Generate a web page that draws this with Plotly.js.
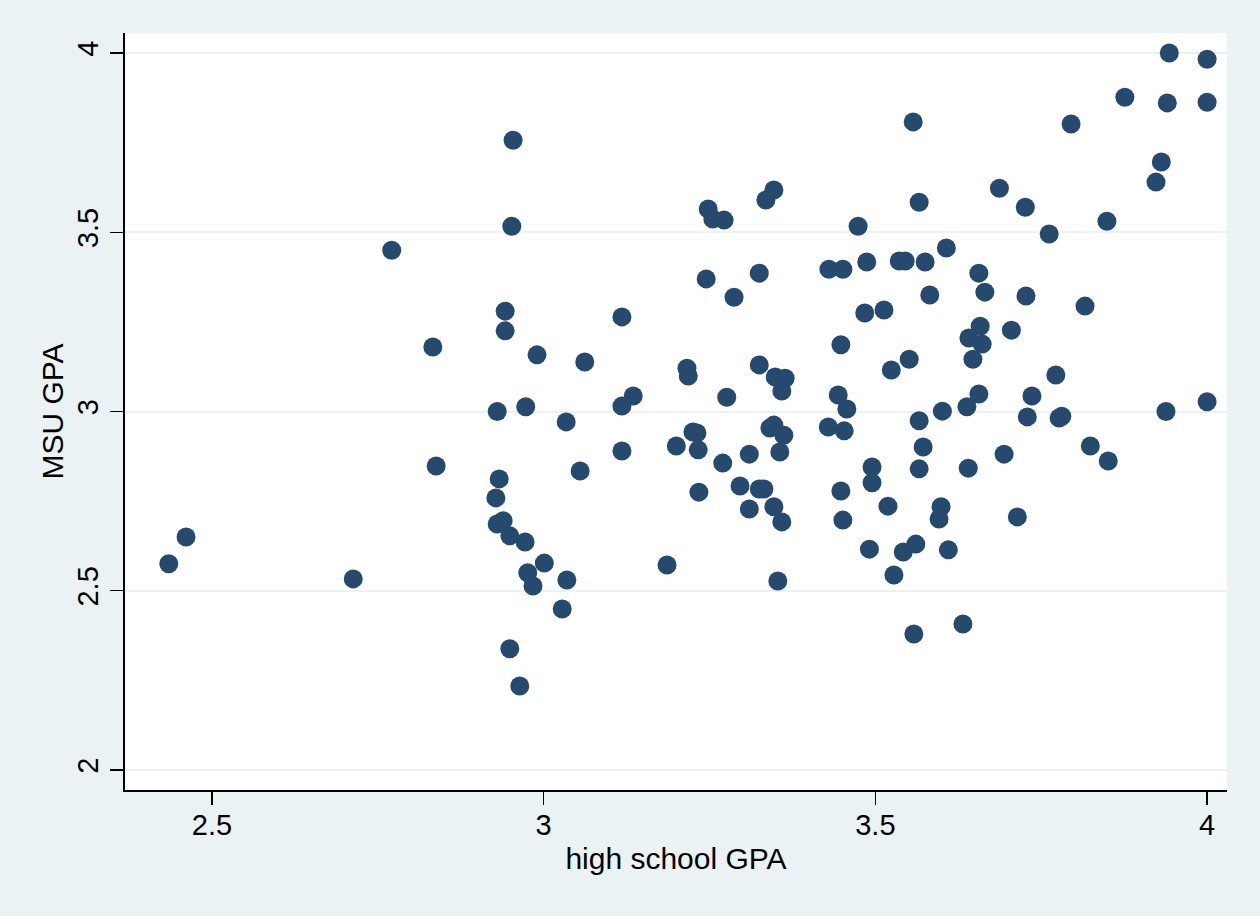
<!DOCTYPE html>
<html>
<head>
<meta charset="utf-8">
<script src="https://cdn.plot.ly/plotly-3.0.1.min.js"></script>
<style>
  body { margin: 0; background: #eaf2f3; }
  #graph { width: 1260px; height: 916px; }
</style>
</head>
<body>
<div id="graph"></div>
<script>
// moyenne au lycée (axe x)
var hsGPA = [
  2.435, 2.461, 2.713, 2.771, 2.833, 2.838, 2.954, 2.952, 2.942, 2.942,
  2.990, 3.062, 2.930, 2.973, 3.034, 2.933, 2.928, 2.930, 2.939, 2.949,
  2.972, 3.001, 2.976, 2.984, 3.035, 3.028, 2.949, 2.964, 3.055, 3.118,
  3.118, 3.135, 3.118, 3.186, 3.200, 3.216, 3.218, 3.225, 3.231, 3.233,
  3.234, 3.245, 3.248, 3.255, 3.272, 3.287, 3.325, 3.335, 3.347, 3.276,
  3.270, 3.310, 3.296, 3.325, 3.332, 3.310, 3.347, 3.359, 3.341, 3.347,
  3.362, 3.356, 3.353, 3.325, 3.349, 3.364, 3.359, 3.430, 3.451, 3.474,
  3.487, 3.536, 3.545, 3.575, 3.607, 3.557, 3.566, 3.656, 3.665, 3.582,
  3.727, 3.484, 3.513, 3.448, 3.524, 3.551, 3.658, 3.641, 3.661, 3.647,
  3.705, 3.772, 3.816, 3.444, 3.457, 3.429, 3.453, 3.566, 3.601, 3.638,
  3.656, 3.736, 3.729, 3.777, 3.781, 3.572, 3.566, 3.640, 3.694, 3.495,
  3.495, 3.448, 3.451, 3.519, 3.599, 3.596, 3.714, 3.491, 3.542, 3.561,
  3.610, 3.528, 3.558, 3.632, 3.824, 3.851, 3.762, 3.687, 3.726, 3.849,
  3.795, 3.931, 3.923, 3.943, 4.000, 3.876, 3.940, 4.000, 3.938, 4.000
];

// moyenne à MSU (axe y)
var colGPA = [
  2.575, 2.650, 2.533, 3.450, 3.180, 2.848, 3.757, 3.517, 3.280, 3.225,
  3.158, 3.138, 3.000, 3.013, 2.971, 2.812, 2.759, 2.686, 2.695, 2.653,
  2.636, 2.577, 2.550, 2.513, 2.530, 2.449, 2.338, 2.234, 2.834, 3.264,
  3.015, 3.043, 2.890, 2.572, 2.904, 3.121, 3.099, 2.943, 2.940, 2.893,
  2.775, 3.370, 3.565, 3.537, 3.534, 3.319, 3.386, 3.590, 3.618, 3.040,
  2.856, 2.881, 2.792, 2.784, 2.784, 2.728, 2.734, 2.692, 2.954, 2.962,
  2.934, 2.887, 2.527, 3.130, 3.096, 3.093, 3.057, 3.397, 3.397, 3.517,
  3.417, 3.420, 3.420, 3.417, 3.456, 3.808, 3.584, 3.386, 3.333, 3.325,
  3.322, 3.275, 3.283, 3.186, 3.116, 3.146, 3.238, 3.205, 3.188, 3.146,
  3.227, 3.102, 3.294, 3.046, 3.007, 2.957, 2.946, 2.974, 3.001, 3.013,
  3.049, 3.043, 2.985, 2.982, 2.987, 2.901, 2.840, 2.842, 2.881, 2.845,
  2.801, 2.778, 2.697, 2.736, 2.734, 2.700, 2.706, 2.616, 2.608, 2.630,
  2.614, 2.544, 2.379, 2.407, 2.904, 2.862, 3.495, 3.623, 3.570, 3.531,
  3.802, 3.696, 3.640, 4.000, 3.983, 3.877, 3.861, 3.863, 3.000, 3.027
];

var xTicks = [2.5, 3, 3.5, 4];
var yTicks = [2, 2.5, 3, 3.5, 4];

var bleu = '#264a6e';
var fond = '#eaf2f3';

var data = [{
  x: hsGPA,
  y: colGPA,
  type: 'scatter',
  mode: 'markers',
  marker: { size: 19, color: bleu },
  hoverinfo: 'x+y'
}];

//police des graduations et des titres d'axes
var policeTick = { family: 'Liberation Sans, Arial, Helvetica, sans-serif', size: 29, color: '#000' };
var policeTitre = { family: 'Liberation Sans, Arial, Helvetica, sans-serif', size: 30, color: '#000' };

var layout = {
  width: 1260,
  height: 916,
  paper_bgcolor: fond,
  plot_bgcolor: '#ffffff',
  margin: { l: 125, r: 33, t: 33, b: 126 },
  showlegend: false,
  font: policeTick,
  xaxis: {
    range: [2.369, 4.030],
    tickvals: xTicks,
    ticks: 'outside',
    ticklen: 13,
    tickwidth: 1.5,
    tickcolor: '#000',
    ticklabelstandoff: -5,
    showgrid: false,
    zeroline: false,
    showline: true,
    linecolor: '#000',
    linewidth: 2,
    tickfont: policeTick,
    title: { text: 'high school GPA', font: policeTitre, standoff: 8 }
  },
  yaxis: {
    range: [1.944, 4.056],
    tickvals: yTicks,
    tickangle: -90,
    ticks: 'outside',
    ticklen: 13,
    tickwidth: 1.5,
    tickcolor: '#000',
    showgrid: true,
    gridcolor: fond,
    gridwidth: 2,
    zeroline: false,
    showline: true,
    linecolor: '#000',
    linewidth: 2,
    tickfont: policeTick,
    title: { text: 'MSU GPA', font: policeTitre, standoff: 0 }
  }
};

Plotly.newPlot('graph', data, layout, { displayModeBar: false, staticPlot: true });
</script>
</body>
</html>
